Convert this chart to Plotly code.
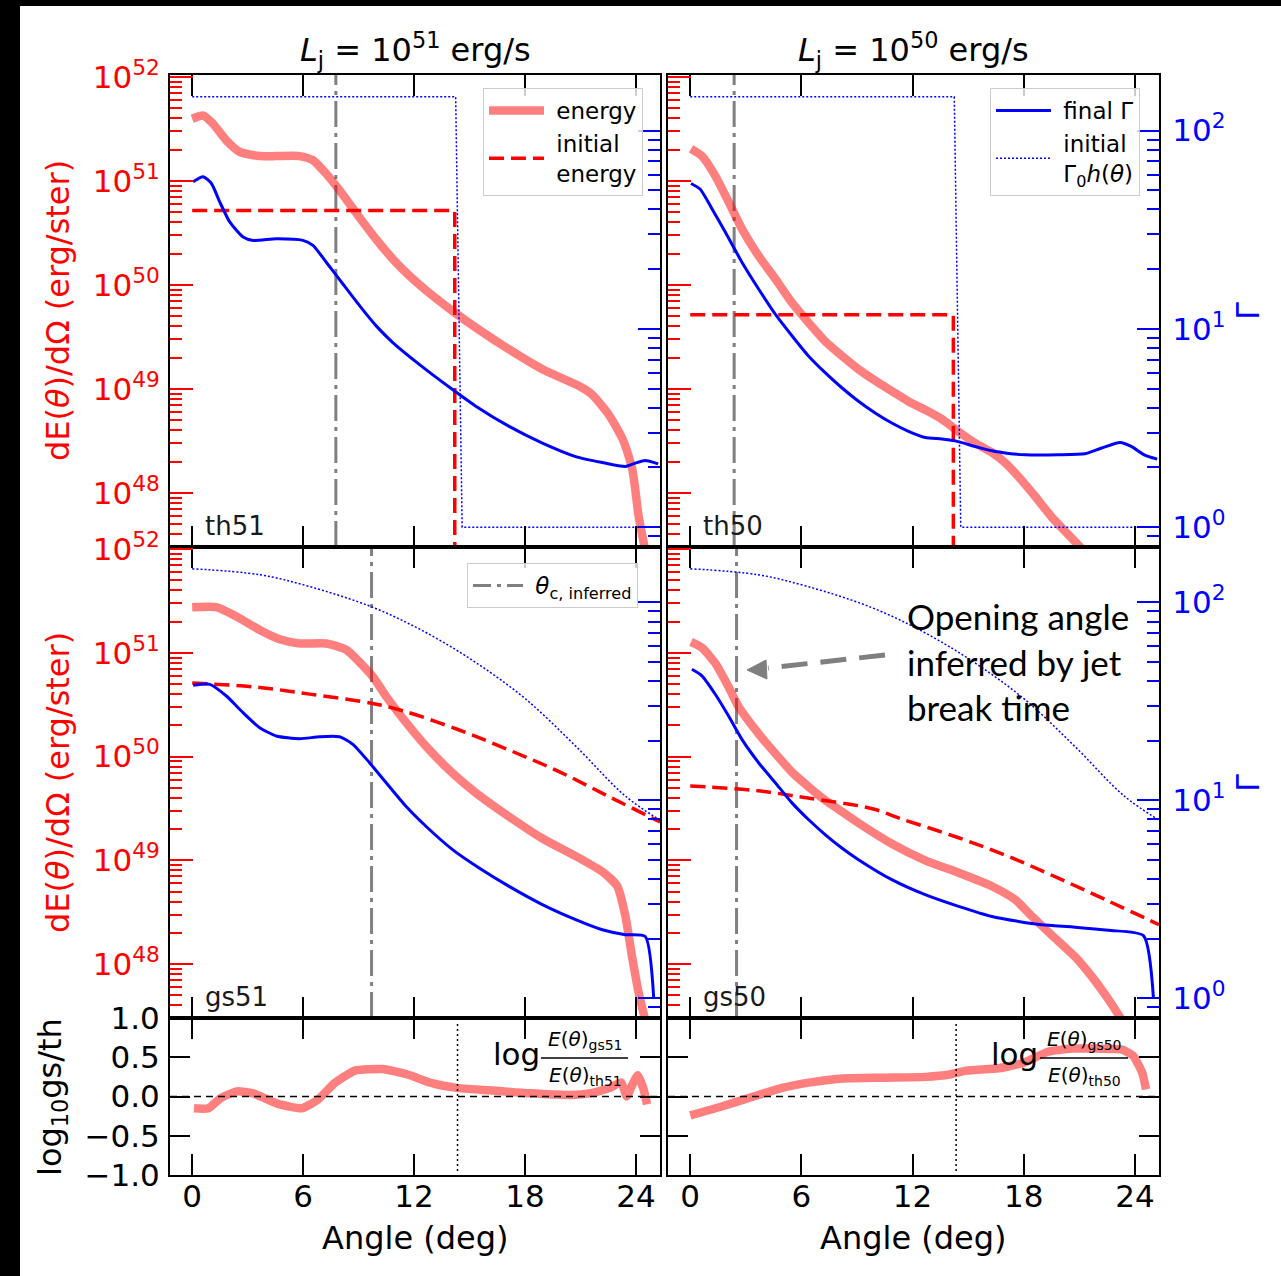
import numpy as np
import plotly.graph_objects as go

W, H = 1281, 1276
FONT = "DejaVu Sans"
RED, BLUE, GREY = "#ff0000", "#0000ff", "#808080"
SALMON = "rgba(255,0,0,0.5)"

# ---------------- profiles: angle (deg) and log10 values ----------------
# top-hat jet, L_j = 1e51 erg/s
ang_E_th51 = [0, 0.6, 1.13, 1.85, 2.57, 3.65, 4.55, 5.8, 6.53, 7.25, 7.97, 9.05, 9.95,
              10.85, 11.74, 12.64, 14.08, 15.34, 17.14, 18.94, 20.9, 21.6, 22.5, 23.3,
              23.8, 24.15, 24.5]
lgE_th51 = [51.60, 51.63, 51.55, 51.39, 51.28, 51.24, 51.24, 51.24, 51.20, 51.07, 50.91,
            50.65, 50.44, 50.25, 50.09, 49.95, 49.75, 49.59, 49.38, 49.19, 49.03, 48.95,
            48.76, 48.51, 48.23, 47.77, 47.45]
ang_G_th51 = [0.05, 0.59, 1.04, 1.49, 2.03, 2.75, 3.29, 4.55, 5.99, 6.53, 7.25, 8.15, 9.05,
              9.95, 10.85, 12.28, 14.08, 15.34, 17.14, 18.94, 20.74, 22.18, 23.43, 23.97,
              24.5, 25.2]
lgG_th51 = [1.742, 1.767, 1.733, 1.640, 1.539, 1.463, 1.446, 1.454, 1.446, 1.421, 1.336,
            1.226, 1.117, 1.015, 0.931, 0.821, 0.694, 0.610, 0.508, 0.424, 0.356, 0.326,
            0.306, 0.323, 0.336, 0.319]

# top-hat jet, L_j = 1e50 erg/s
ang_E_th50 = [0.04, 0.63, 1.35, 2.07, 2.79, 3.69, 4.59, 5.49, 6.38, 7.28, 8.18, 9.08, 9.98,
              10.88, 11.78, 12.68, 13.58, 14.48, 15.38, 16.28, 17.0, 17.7, 18.6, 19.5,
              20.4, 21.2]
lgE_th50 = [51.31, 51.24, 51.05, 50.80, 50.54, 50.28, 50.06, 49.83, 49.64, 49.46, 49.32,
            49.19, 49.08, 48.98, 48.88, 48.80, 48.71, 48.59, 48.48, 48.39, 48.29, 48.16,
            47.97, 47.77, 47.60, 47.45]
ang_G_th50 = [0.04, 0.54, 1.17, 1.89, 2.79, 3.69, 4.59, 5.49, 6.38, 7.28, 8.18, 9.08, 9.98,
              10.88, 11.78, 12.68, 13.58, 14.3, 15.38, 16.28, 17.18, 18.08, 19.87, 21.3,
              22.2, 23.2, 23.8, 24.5, 25.2]
lgG_th50 = [1.733, 1.704, 1.606, 1.488, 1.336, 1.201, 1.074, 0.965, 0.863, 0.779, 0.703,
            0.635, 0.576, 0.525, 0.483, 0.452, 0.445, 0.435, 0.407, 0.385, 0.372, 0.365,
            0.365, 0.370, 0.399, 0.427, 0.407, 0.365, 0.343]

# Gaussian jet, L_j = 1e51 erg/s
ang_E_gs51 = [0, 1.31, 2.39, 3.65, 4.73, 5.81, 7.25, 8.33, 9.05, 9.77, 10.49, 11.38, 12.64,
              14.08, 15.34, 17.14, 18.94, 20.74, 22.18, 22.99, 23.43, 23.79, 24.15, 24.5]
lgE_gs51 = [51.44, 51.44, 51.35, 51.22, 51.13, 51.09, 51.09, 51.03, 50.91, 50.77, 50.58,
            50.37, 50.10, 49.84, 49.65, 49.42, 49.21, 49.04, 48.89, 48.75, 48.46, 48.07,
            47.72, 47.46]
ang_G_gs51 = [0.05, 0.95, 1.85, 2.75, 3.65, 4.55, 5.81, 6.89, 7.97, 8.69, 9.59, 10.49, 11.56,
              12.64, 14.08, 15.52, 17.14, 18.94, 20.74, 22.18, 23.43, 24.5, 24.96]
lgG_gs51 = [1.581, 1.586, 1.527, 1.443, 1.367, 1.325, 1.311, 1.321, 1.321, 1.283, 1.190,
            1.089, 0.970, 0.869, 0.751, 0.658, 0.565, 0.473, 0.397, 0.346, 0.321, 0.312,
            0.0]

# Gaussian jet, L_j = 1e50 erg/s
ang_E_gs50 = [0.04, 0.63, 1.35, 2.07, 2.61, 3.69, 4.59, 5.49, 6.38, 7.28, 8.18, 9.08, 10.88,
              12.68, 14.48, 16.28, 17.54, 18.44, 19.5, 20.77, 21.67, 22.57, 23.3]
lgE_gs50 = [51.106, 51.05, 50.90, 50.67, 50.48, 50.22, 50.03, 49.85, 49.71, 49.58, 49.47,
            49.36, 49.16, 49.00, 48.88, 48.75, 48.62, 48.46, 48.28, 48.07, 47.88, 47.66,
            47.46]
ang_G_gs50 = [0.09, 0.63, 1.35, 2.07, 2.79, 3.69, 4.59, 5.49, 6.38, 7.28, 8.18, 9.08, 10.88,
              12.68, 14.48, 16.28, 17.72, 18.97, 20.77, 22.57, 24.46, 25.0]
lgG_gs50 = [1.662, 1.629, 1.536, 1.426, 1.308, 1.190, 1.089, 0.987, 0.903, 0.827, 0.759,
            0.700, 0.599, 0.523, 0.464, 0.413, 0.388, 0.371, 0.359, 0.343, 0.316, 0.0]

# initial conditions
ang_init_th = [0, 14.2, 14.2]
lgE0_th51 = [50.717, 50.717, 40.0]
lgE0_th50 = [49.714, 49.714, 40.0]
ang_G0_th = [0, 14.25, 14.6, 26.0]
lgG0_th = [2.17, 2.17, 0.0, 0.0]

ang_init_gs = [0, 3.65, 6.35, 9.77, 11.38, 14.44, 17.14, 19.84, 22.54, 25.3]
lgE0_gs51 = [50.71, 50.666, 50.602, 50.512, 50.442, 50.256, 50.063, 49.855, 49.614, 49.37]
lgE0_gs50 = [49.717, 49.67, 49.60, 49.50, 49.40, 49.22, 49.04, 48.83, 48.61, 48.38]
ang_G0_gs = [0, 3.65, 6.35, 9.77, 12.64, 15.34, 18.04, 20.74, 23.43, 25.3]
lgG0_gs = [2.17, 2.14, 2.08, 1.975, 1.848, 1.696, 1.511, 1.274, 1.021, 0.90]

# inferred core angles (deg) and the top-hat edge
theta_c = {"th51": 7.77, "th50": 2.37, "gs51": 9.7, "gs50": 2.5}
theta_j = 14.35

# log10 ratio of Gaussian to top-hat energy
ang_r51 = [0.1, 0.88, 1.54, 2.42, 3.3, 4.6, 5.93, 6.8, 7.7, 8.8, 10.3, 11.65, 12.97, 14.3,
           16.04, 18.24, 20.44, 21.5, 22.6, 23.2, 23.5, 23.8, 24.1, 24.4, 24.6]
ratio51 = [-0.15, -0.15, -0.02, 0.065, 0.04, -0.09, -0.15, -0.04, 0.17, 0.33, 0.35, 0.28,
           0.17, 0.11, 0.08, 0.04, 0.02, 0.04, 0.11, 0.18, 0.0, 0.15, 0.27, 0.1, -0.1]
ang_r50 = [0, 1.65, 3.42, 4.96, 6.5, 8.27, 10.5, 12.7, 14.0, 14.9, 16.65, 18.0, 19.3, 20.6,
           21.95, 23.27, 23.9, 24.4, 24.6]
ratio50 = [-0.24, -0.13, 0.0, 0.11, 0.18, 0.23, 0.24, 0.25, 0.28, 0.33, 0.36, 0.43, 0.57,
           0.61, 0.61, 0.60, 0.52, 0.30, 0.09]

# axis ranges / ticks
X_RANGE = [-1.2, 25.3]
X_TICKS = [0, 6, 12, 18, 24]
E_RANGE = [47.48, 52.02]
G_RANGE = [-0.1, 2.28]
E_MAJOR = [10.0 ** n for n in range(48, 53)]
E_TEXT = [f"10<sup>{n}</sup>" for n in range(48, 53)]
G_MAJOR = [1.0, 10.0, 100.0]
G_TEXT = ["10<sup>0</sup>", "10<sup>1</sup>", "10<sup>2</sup>"]
R_TICKS = [-1, -0.5, 0, 0.5, 1]
R_TEXT = ["\u22121.0", "\u22120.5", "0.0", "0.5", "1.0"]


def minor_vals(lo, hi, decades):
    out = []
    for n in decades:
        for m in range(2, 10):
            v = m * 10.0 ** n
            if lo <= np.log10(v) <= hi:
                out.append(v)
    return out


E_MINOR = minor_vals(E_RANGE[0], E_RANGE[1], range(47, 53))
G_MINOR = minor_vals(G_RANGE[0], G_RANGE[1], range(-1, 3))

# ---------------- page geometry (pixels) ----------------
COLS = [(170, 660), (668, 1159)]
ROWS = [(75, 547), (547, 1018), (1018, 1175)]


def fx(x):
    return x / W


def fy(y):
    return 1 - y / H


def xdom(c):
    return [fx(COLS[c][0]), fx(COLS[c][1])]


def ydom(r):
    return [fy(ROWS[r][1]), fy(ROWS[r][0])]


def aname(kind, i):
    return kind if i == 1 else f"{kind}{i}"


def lkey(kind, i):
    return f"{kind}axis" if i == 1 else f"{kind}axis{i}"


def label(text, x, y, size, color="black", angle=0, xanchor="center", family=None, **kw):
    f = dict(size=size, color=color)
    if family:
        f["family"] = family
    return dict(text=text, x=fx(x), y=fy(y), xref="paper", yref="paper",
                xanchor=xanchor, yanchor="middle", textangle=angle,
                showarrow=False, font=f, **kw)


fig = go.Figure()
layout = {}
shapes = []
annotations = []

frame = dict(showline=True, linecolor="black", linewidth=2, showgrid=False, zeroline=False,
             automargin=False)

panels = [
    dict(key="th51", r=0, c=0, xi=1, ei=1, gi=2,
         aE=ang_E_th51, E=lgE_th51, aG=ang_G_th51, G=lgG_th51,
         a0=ang_init_th, E0=lgE0_th51, ag0=ang_G0_th, G0=lgG0_th, spline0=False),
    dict(key="th50", r=0, c=1, xi=2, ei=3, gi=4,
         aE=ang_E_th50, E=lgE_th50, aG=ang_G_th50, G=lgG_th50,
         a0=ang_init_th, E0=lgE0_th50, ag0=ang_G0_th, G0=lgG0_th, spline0=False),
    dict(key="gs51", r=1, c=0, xi=3, ei=5, gi=6,
         aE=ang_E_gs51, E=lgE_gs51, aG=ang_G_gs51, G=lgG_gs51,
         a0=ang_init_gs, E0=lgE0_gs51, ag0=ang_G0_gs, G0=lgG0_gs, spline0=True),
    dict(key="gs50", r=1, c=1, xi=4, ei=7, gi=8,
         aE=ang_E_gs50, E=lgE_gs50, aG=ang_G_gs50, G=lgG_gs50,
         a0=ang_init_gs, E0=lgE0_gs50, ag0=ang_G0_gs, G0=lgG0_gs, spline0=True),
]

DASH_E0 = "15px,7px"
DASH_G0 = "2px,2px"
DASH_TC = "26px,6px,4px,6px"
SP = "&nbsp;"

for p in panels:
    xa, ya, ga = aname("x", p["xi"]), aname("y", p["ei"]), aname("y", p["gi"])
    left = p["c"] == 0
    layout[lkey("x", p["xi"])] = dict(
        domain=xdom(p["c"]), range=X_RANGE, anchor=ya, tickvals=X_TICKS,
        ticks="inside", ticklen=21, tickwidth=2, tickcolor="black", mirror="ticks",
        showticklabels=False, **frame)
    layout[lkey("y", p["ei"])] = dict(
        domain=ydom(p["r"]), type="log", range=E_RANGE, anchor=xa,
        tickvals=E_MAJOR, ticktext=E_TEXT, showticklabels=left,
        ticks="inside", ticklen=23, tickwidth=2, tickcolor=RED,
        tickfont=dict(size=31, color=RED), ticklabelstandoff=2,
        minor=dict(tickvals=E_MINOR, ticks="inside", ticklen=12, tickwidth=2,
                   tickcolor=RED, showgrid=False),
        **frame)
    layout[lkey("y", p["gi"])] = dict(
        type="log", range=G_RANGE, anchor=xa, overlaying=ya, side="right",
        tickvals=G_MAJOR, ticktext=G_TEXT, showticklabels=not left,
        ticks="inside", ticklen=22, tickwidth=2, tickcolor=BLUE,
        tickfont=dict(size=31, color=BLUE), ticklabelstandoff=5,
        minor=dict(tickvals=G_MINOR, ticks="inside", ticklen=12, tickwidth=2,
                   tickcolor=BLUE, showgrid=False),
        **frame)

    first = p["key"] == "th51"
    second = p["key"] == "th50"
    fig.add_trace(go.Scatter(
        x=p["aE"], y=10.0 ** np.array(p["E"]), xaxis=xa, yaxis=ya, mode="lines",
        line=dict(color=SALMON, width=8.5, shape="spline", smoothing=0.6),
        name=SP + "energy", showlegend=first, legend="legend"))
    fig.add_trace(go.Scatter(
        x=p["a0"], y=10.0 ** np.array(p["E0"]), xaxis=xa, yaxis=ya, mode="lines",
        line=dict(color=RED, width=3.5, dash=DASH_E0,
                  shape="spline" if p["spline0"] else "linear"),
        name=SP + "initial<br>" + SP + "energy", showlegend=first, legend="legend"))
    fig.add_trace(go.Scatter(
        x=p["aG"], y=10.0 ** np.array(p["G"]), xaxis=xa, yaxis=ga, mode="lines",
        line=dict(color=BLUE, width=3, shape="spline", smoothing=0.6),
        name=SP + "final \u0393", showlegend=second, legend="legend2"))
    fig.add_trace(go.Scatter(
        x=p["ag0"], y=10.0 ** np.array(p["G0"]), xaxis=xa, yaxis=ga, mode="lines",
        line=dict(color=BLUE, width=1.5, dash=DASH_G0,
                  shape="spline" if p["spline0"] else "linear"),
        name=SP + "initial<br>" + SP + "\u0393<sub>0</sub><i>h</i>(<i>\u03b8</i>)",
        showlegend=second, legend="legend2"))

    # inferred opening angle
    shapes.append(dict(type="line", xref=xa, yref=f"{ya} domain", x0=theta_c[p["key"]],
                       x1=theta_c[p["key"]], y0=0, y1=1, layer="below",
                       line=dict(color=GREY, width=3, dash=DASH_TC)))

    # panel tag
    annotations.append(label(p["key"], COLS[p["c"]][0] + 33, ROWS[p["r"]][1] - 21, 26,
                             color="#1a1a1a", xanchor="left"))

# legend proxy for the inferred opening angle
fig.add_trace(go.Scatter(
    x=[None], y=[None], xaxis="x3", yaxis="y5", mode="lines",
    line=dict(color=GREY, width=3, dash="18px,6px,4px,6px"),
    name=SP + "<i>\u03b8</i><sub>c, inferred</sub>", showlegend=True, legend="legend3"))

# ratio panels
for c, xi, yi, ang, val in [(0, 5, 9, ang_r51, ratio51), (1, 6, 10, ang_r50, ratio50)]:
    xa, ya = aname("x", xi), aname("y", yi)
    layout[lkey("x", xi)] = dict(
        domain=xdom(c), range=X_RANGE, anchor=ya, tickvals=X_TICKS,
        ticks="inside", ticklen=21, tickwidth=2, tickcolor="black", mirror="ticks",
        showticklabels=True, tickfont=dict(size=31, color="black"),
        ticklabelstandoff=-7, **frame)
    layout[lkey("y", yi)] = dict(
        domain=ydom(2), range=[-1, 1], anchor=xa, tickvals=R_TICKS, ticktext=R_TEXT,
        ticks="inside", ticklen=20, tickwidth=2, tickcolor="black", mirror="ticks",
        showticklabels=(c == 0), tickfont=dict(size=31, color="black"),
        ticklabelstandoff=2, **frame)
    fig.add_trace(go.Scatter(
        x=ang, y=val, xaxis=xa, yaxis=ya, mode="lines", showlegend=False,
        line=dict(color=SALMON, width=8.5, shape="spline", smoothing=0.5)))
    shapes.append(dict(type="line", xref=f"{xa} domain", yref=ya, x0=0, x1=1, y0=0, y1=0,
                       line=dict(color="black", width=1.5, dash="7px,5px")))
    shapes.append(dict(type="line", xref=xa, yref=ya, x0=theta_j, x1=theta_j,
                       y0=-0.95, y1=0.95, line=dict(color="black", width=1.5, dash="2px,3px")))

# ratio labels written as a fraction
for lx, cx, x0, x1, num, den in [
        (516, 585, 541, 628, "gs51", "th51"),
        (1014, 1084, 1040, 1128, "gs50", "th50")]:
    annotations.append(label("log", lx, 1054, 31))
    annotations.append(label(f"<i>E</i>(<i>\u03b8</i>)<sub>{num}</sub>", cx, 1040, 20))
    annotations.append(label(f"<i>E</i>(<i>\u03b8</i>)<sub>{den}</sub>", cx, 1076, 20))
    shapes.append(dict(type="line", xref="paper", yref="paper", x0=fx(x0), x1=fx(x1),
                       y0=fy(1058), y1=fy(1058), line=dict(color="black", width=1.5)))

# column titles and axis titles
for cx, exp in [(415, 51), (913, 50)]:
    annotations.append(label(f"<i>L</i><sub>j</sub> = 10<sup>{exp}</sup> erg/s", cx, 50, 32))
    annotations.append(label("Angle (deg)", cx, 1238, 32))

for cy in (311, 783):
    annotations.append(label("dE(<i>\u03b8</i>)/d\u03a9 (erg/ster)", 58, cy, 32,
                             color=RED, angle=-90))
    annotations.append(label("\u0393", 1248, cy, 32, color=BLUE, angle=-90))

annotations.append(label("log<sub>10</sub>gs/th", 52, 1097, 32, angle=-90))

# note on the inferred opening angle
annotations.append(label("Opening angle<br>inferred by jet<br>break time", 905, 661, 35,
                         xanchor="left", family="Lato", align="left"))
shapes.append(dict(type="line", xref="paper", yref="paper", x0=fx(885), y0=fy(655),
                   x1=fx(768), y1=fy(668), line=dict(color="#7f7f7f", width=5,
                                                      dash="26px,13px")))
shapes.append(dict(type="path", xref="paper", yref="paper",
                   path=f"M {fx(747)} {fy(670)} L {fx(766)} {fy(660)} L {fx(767)} {fy(679)} Z",
                   fillcolor="#7f7f7f", line=dict(color="#7f7f7f", width=1)))

# dark page edges
shapes.append(dict(type="rect", xref="paper", yref="paper", x0=0, x1=fx(20), y0=0, y1=1,
                   fillcolor="black", line=dict(width=0)))
shapes.append(dict(type="rect", xref="paper", yref="paper", x0=0, x1=1, y0=fy(6), y1=1,
                   fillcolor="black", line=dict(width=0)))

leg_common = dict(xanchor="left", yanchor="top", bgcolor="rgba(255,255,255,0.8)",
                  bordercolor="#cccccc", borderwidth=1,
                  font=dict(family=FONT, size=23, color="black"))

fig.update_layout(
    template="none",
    width=W, height=H, margin=dict(l=0, r=0, t=0, b=0, pad=0, autoexpand=False),
    paper_bgcolor="white", plot_bgcolor="white",
    font=dict(family=FONT, color="black"),
    showlegend=True,
    legend=dict(x=fx(483), y=fy(88), itemwidth=55, **leg_common),
    legend2=dict(x=fx(990), y=fy(88), itemwidth=55, **leg_common),
    legend3=dict(x=fx(467), y=fy(563), itemwidth=50, **leg_common),
    shapes=shapes, annotations=annotations,
    **layout)

fig.write_html("out.html")
